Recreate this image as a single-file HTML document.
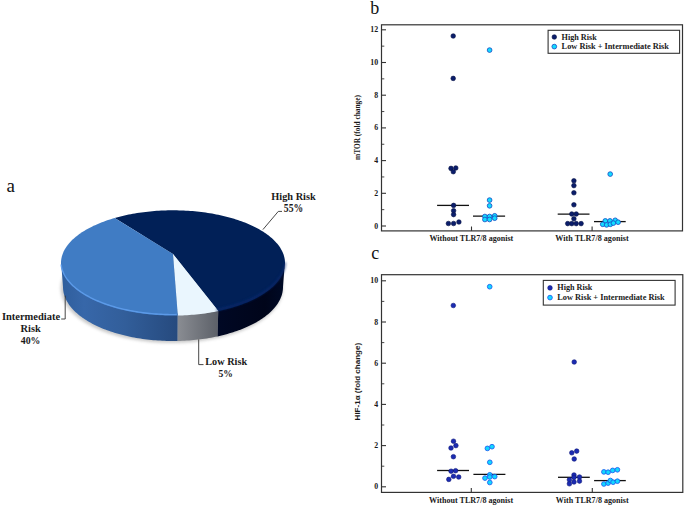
<!DOCTYPE html>
<html><head><meta charset="utf-8"><style>
html,body{margin:0;padding:0;background:#fff;}
svg{display:block;}
</style></head><body>
<svg width="685" height="506" viewBox="0 0 685 506">
<defs> 
<linearGradient id="sideInt" x1="61" y1="0" x2="177.4" y2="0" gradientUnits="userSpaceOnUse">
  <stop offset="0" stop-color="#2f5e9c"/><stop offset="0.2" stop-color="#3767a9"/><stop offset="0.55" stop-color="#325e9a"/><stop offset="1" stop-color="#264a7e"/>
</linearGradient>
<linearGradient id="sideLow" x1="177.4" y1="0" x2="218.3" y2="0" gradientUnits="userSpaceOnUse">
  <stop offset="0" stop-color="#8a8d93"/><stop offset="1" stop-color="#5c6068"/>
</linearGradient>
<linearGradient id="sideHigh" x1="218.3" y1="0" x2="285" y2="0" gradientUnits="userSpaceOnUse">
  <stop offset="0" stop-color="#000824"/><stop offset="0.7" stop-color="#00051a"/><stop offset="1" stop-color="#000a26"/>
</linearGradient>
<filter id="blur05" x="-10%" y="-50%" width="120%" height="200%"><feGaussianBlur stdDeviation="0.8"/></filter>
<filter id="blur1" x="-20%" y="-20%" width="140%" height="140%"><feGaussianBlur stdDeviation="1.6"/></filter>
</defs>
<rect width="685" height="506" fill="#fff"/>
<ellipse cx="171.8" cy="288.2" rx="111.2" ry="54.8" fill="#8a8a8a" opacity="0.45" filter="url(#blur1)"/>
<polygon points="61.00,261.00 61.02,262.06 61.09,263.12 61.20,264.18 61.36,265.24 61.57,266.30 61.82,267.35 62.11,268.40 62.46,269.45 62.84,270.50 63.27,271.54 63.75,272.58 64.26,273.61 64.83,274.64 65.44,275.66 66.09,276.67 66.78,277.68 67.52,278.69 68.30,279.68 69.12,280.67 69.99,281.65 70.90,282.62 71.85,283.58 72.84,284.54 73.87,285.48 74.94,286.41 76.05,287.34 77.20,288.25 78.39,289.15 79.62,290.04 80.89,290.92 82.19,291.79 83.53,292.64 84.91,293.48 86.32,294.31 87.77,295.13 89.25,295.93 90.77,296.71 92.32,297.48 93.90,298.24 95.52,298.98 97.17,299.71 98.84,300.42 100.55,301.11 102.29,301.79 104.06,302.45 105.85,303.10 107.67,303.73 109.52,304.34 111.39,304.93 113.29,305.50 115.22,306.06 117.16,306.60 119.13,307.12 121.12,307.62 123.14,308.10 125.17,308.56 127.22,309.01 129.29,309.43 131.38,309.83 133.49,310.22 135.61,310.58 137.75,310.93 139.90,311.25 142.06,311.55 144.24,311.84 146.43,312.10 148.63,312.34 150.84,312.56 153.06,312.76 155.28,312.94 157.52,313.10 159.76,313.23 162.01,313.35 164.26,313.44 166.51,313.51 168.77,313.56 171.02,313.59 173.28,313.60 175.54,313.59 177.80,313.55 177.71,340.95 175.50,340.99 173.28,341.00 171.06,340.99 168.84,340.96 166.63,340.91 164.41,340.84 162.20,340.74 160.00,340.62 157.80,340.48 155.60,340.32 153.41,340.14 151.23,339.93 149.06,339.71 146.90,339.46 144.75,339.19 142.62,338.90 140.49,338.59 138.38,338.26 136.28,337.90 134.19,337.53 132.13,337.13 130.07,336.72 128.04,336.28 126.02,335.83 124.03,335.35 122.05,334.86 120.10,334.34 118.16,333.81 116.25,333.26 114.36,332.69 112.49,332.10 110.65,331.49 108.84,330.86 107.05,330.22 105.29,329.56 103.55,328.88 101.85,328.18 100.17,327.47 98.52,326.74 96.90,325.99 95.32,325.23 93.76,324.46 92.24,323.66 90.75,322.86 89.29,322.03 87.87,321.20 86.48,320.35 85.13,319.48 83.81,318.61 82.53,317.72 81.29,316.82 80.08,315.90 78.91,314.98 77.78,314.04 76.69,313.09 75.64,312.13 74.63,311.16 73.65,310.18 72.72,309.20 71.83,308.20 70.98,307.19 70.17,306.18 69.40,305.16 68.68,304.13 68.00,303.09 67.36,302.05 66.76,301.00 66.21,299.94 65.70,298.88 65.23,297.82 64.81,296.75 64.43,295.68 64.09,294.60 63.80,293.52 63.56,292.44 63.36,291.35 63.20,290.27 63.09,289.18 63.02,288.09 63.00,287.00" fill="url(#sideInt)"/>
<polygon points="177.80,313.55 180.12,313.49 182.44,313.41 184.75,313.31 187.06,313.18 189.36,313.04 191.66,312.86 193.95,312.67 196.22,312.46 198.49,312.22 200.75,311.96 203.00,311.68 205.23,311.38 207.45,311.05 209.65,310.70 211.84,310.34 214.01,309.95 216.16,309.54 218.30,309.11 217.49,336.39 215.39,336.83 213.28,337.25 211.15,337.65 209.00,338.03 206.83,338.38 204.65,338.72 202.46,339.03 200.26,339.32 198.04,339.58 195.81,339.83 193.57,340.05 191.33,340.25 189.07,340.42 186.81,340.57 184.54,340.70 182.27,340.81 179.99,340.89 177.71,340.95" fill="url(#sideLow)"/>
<polygon points="218.30,309.11 220.37,308.66 222.41,308.20 224.44,307.72 226.44,307.23 228.42,306.71 230.38,306.17 232.32,305.62 234.23,305.04 236.12,304.45 237.98,303.84 239.81,303.22 241.62,302.57 243.40,301.91 245.15,301.23 246.87,300.54 248.56,299.83 250.22,299.10 251.84,298.36 253.44,297.60 255.00,296.83 256.53,296.04 258.02,295.24 259.48,294.42 260.90,293.60 262.29,292.75 263.64,291.90 264.96,291.03 266.23,290.15 267.47,289.26 268.67,288.35 269.83,287.44 270.95,286.51 272.03,285.57 273.07,284.63 274.07,283.67 275.02,282.70 275.94,281.73 276.81,280.74 277.64,279.75 278.43,278.75 279.17,277.75 279.87,276.73 280.53,275.72 281.14,274.69 281.71,273.66 282.23,272.62 282.71,271.58 283.14,270.53 283.53,269.49 283.88,268.43 284.17,267.38 284.43,266.32 284.63,265.26 284.79,264.19 284.91,263.13 284.98,262.07 285.00,261.00 283.00,287.00 282.98,288.09 282.91,289.19 282.80,290.28 282.64,291.37 282.44,292.46 282.19,293.55 281.90,294.63 281.56,295.71 281.18,296.79 280.75,297.86 280.28,298.93 279.77,299.99 279.21,301.05 278.61,302.11 277.96,303.15 277.28,304.19 276.54,305.23 275.77,306.25 274.96,307.27 274.10,308.28 273.20,309.28 272.26,310.27 271.28,311.25 270.26,312.23 269.20,313.19 268.10,314.14 266.96,315.08 265.78,316.01 264.57,316.92 263.31,317.83 262.02,318.72 260.70,319.60 259.33,320.46 257.94,321.31 256.50,322.15 255.04,322.97 253.53,323.78 252.00,324.58 250.43,325.35 248.84,326.12 247.21,326.86 245.55,327.59 243.86,328.30 242.14,329.00 240.39,329.68 238.62,330.34 236.82,330.98 234.99,331.61 233.14,332.22 231.26,332.80 229.36,333.37 227.43,333.92 225.49,334.46 223.52,334.97 221.53,335.46 219.52,335.93 217.49,336.39" fill="url(#sideHigh)"/>
<polygon points="173.00,254.00 114.70,218.00 116.63,217.46 118.59,216.94 120.56,216.43 122.56,215.95 124.58,215.48 126.61,215.03 128.67,214.60 130.74,214.19 132.84,213.81 134.94,213.44 137.07,213.09 139.20,212.76 141.35,212.45 143.52,212.16 145.69,211.89 147.88,211.64 150.07,211.42 152.28,211.21 154.49,211.02 156.71,210.86 158.94,210.72 161.18,210.59 163.41,210.49 165.66,210.41 167.90,210.35 170.15,210.32 172.40,210.30 174.65,210.31 176.89,210.33 179.14,210.38 181.38,210.45 183.63,210.54 185.86,210.65 188.09,210.78 190.32,210.93 192.54,211.11 194.75,211.30 196.95,211.52 199.14,211.76 201.32,212.01 203.49,212.29 205.65,212.59 207.79,212.91 209.92,213.25 212.04,213.60 214.14,213.98 216.22,214.38 218.29,214.80 220.33,215.24 222.36,215.69 224.37,216.17 226.36,216.66 228.32,217.18 230.27,217.71 232.19,218.26 234.09,218.83 235.96,219.41 237.81,220.02 239.63,220.64 241.42,221.28 243.19,221.93 244.92,222.60 246.63,223.29 248.31,223.99 249.96,224.71 251.58,225.45 253.17,226.20 254.72,226.96 256.24,227.74 257.73,228.54 259.18,229.34 260.60,230.16 261.99,231.00 263.33,231.84 264.64,232.70 265.92,233.58 267.15,234.46 268.35,235.36 269.51,236.26 270.63,237.18 271.72,238.11 272.76,239.04 273.76,239.99 274.72,240.95 275.64,241.91 276.52,242.89 277.36,243.87 278.15,244.86 278.91,245.86 279.62,246.86 280.28,247.87 280.91,248.89 281.49,249.91 282.03,250.94 282.52,251.97 282.97,253.01 283.37,254.05 283.73,255.09 284.05,256.14 284.32,257.19 284.54,258.24 284.72,259.30 284.86,260.35 284.95,261.41 284.99,262.47 284.99,263.52 284.95,264.58 284.86,265.64 284.72,266.69 284.54,267.74 284.32,268.79 284.05,269.84 283.73,270.89 283.37,271.93 282.97,272.97 282.52,274.00 282.03,275.03 281.49,276.06 280.91,277.08 280.29,278.09 279.62,279.10 278.91,280.11 278.16,281.10 277.37,282.09 276.53,283.07 275.65,284.04 274.73,285.00 273.77,285.96 272.77,286.90 271.72,287.84 270.64,288.77 269.52,289.68 268.36,290.59 267.16,291.48 265.93,292.36 264.65,293.23 263.34,294.09 261.99,294.94 260.61,295.77 259.19,296.59 257.74,297.39 256.25,298.19 254.73,298.96 253.18,299.73 251.59,300.48 249.97,301.21 248.32,301.93 246.65,302.63 244.94,303.32 243.20,303.99 241.43,304.64 239.64,305.28 237.82,305.90 235.97,306.50 234.10,307.08 232.20,307.65 230.28,308.20 228.34,308.73 226.37,309.24 224.38,309.74 222.38,310.21 220.35,310.67 218.30,311.11" fill="#012057"/>
<polygon points="173.00,254.00 218.30,311.11 216.16,311.54 214.01,311.95 211.84,312.34 209.65,312.70 207.45,313.05 205.23,313.38 203.00,313.68 200.75,313.96 198.49,314.22 196.22,314.46 193.95,314.67 191.66,314.86 189.36,315.04 187.06,315.18 184.75,315.31 182.44,315.41 180.12,315.49 177.80,315.55" fill="#eaf6fe"/>
<polygon points="173.00,254.00 177.80,315.55 175.55,315.59 173.29,315.60 171.04,315.59 168.78,315.56 166.53,315.51 164.28,315.44 162.04,315.35 159.80,315.23 157.56,315.10 155.33,314.94 153.11,314.76 150.89,314.57 148.69,314.35 146.49,314.11 144.31,313.84 142.13,313.56 139.97,313.26 137.83,312.94 135.69,312.60 133.57,312.23 131.47,311.85 129.39,311.45 127.32,311.03 125.27,310.58 123.24,310.12 121.23,309.64 119.24,309.14 117.28,308.63 115.33,308.09 113.41,307.54 111.51,306.96 109.64,306.37 107.80,305.77 105.98,305.14 104.18,304.50 102.42,303.84 100.68,303.17 98.98,302.47 97.30,301.77 95.65,301.04 94.04,300.30 92.46,299.55 90.91,298.78 89.39,298.00 87.91,297.20 86.46,296.39 85.04,295.56 83.67,294.73 82.32,293.87 81.02,293.01 79.75,292.14 78.52,291.25 77.33,290.35 76.18,289.44 75.06,288.52 73.99,287.59 72.96,286.65 71.96,285.70 71.01,284.74 70.10,283.77 69.23,282.79 68.40,281.81 67.62,280.81 66.88,279.81 66.18,278.81 65.52,277.79 64.91,276.78 64.34,275.75 63.82,274.72 63.34,273.69 62.90,272.65 62.51,271.60 62.16,270.56 61.86,269.51 61.60,268.46 61.39,267.40 61.23,266.35 61.11,265.29 61.03,264.23 61.00,263.17 61.02,262.11 61.08,261.05 61.18,259.99 61.33,258.93 61.53,257.88 61.77,256.82 62.06,255.77 62.39,254.72 62.77,253.68 63.19,252.63 63.65,251.60 64.16,250.56 64.72,249.53 65.32,248.51 65.96,247.49 66.64,246.48 67.37,245.48 68.14,244.48 68.96,243.49 69.81,242.51 70.71,241.54 71.65,240.57 72.63,239.62 73.65,238.67 74.71,237.74 75.81,236.81 76.95,235.90 78.13,234.99 79.34,234.10 80.60,233.22 81.89,232.35 83.22,231.49 84.59,230.65 85.99,229.82 87.43,229.00 88.90,228.20 90.41,227.41 91.94,226.63 93.52,225.87 95.12,225.13 96.76,224.40 98.42,223.68 100.12,222.98 101.85,222.30 103.60,221.64 105.39,220.99 107.20,220.35 109.03,219.74 110.90,219.14 112.79,218.56 114.70,218.00" fill="#407cc4"/>
<polyline points="216.24,309.92 218.33,309.50 220.39,309.06 222.44,308.60 224.46,308.12 226.47,307.62 228.45,307.10 230.41,306.57 232.34,306.01 234.25,305.44 236.14,304.84 238.00,304.24 239.83,303.61 241.64,302.96 243.42,302.30 245.17,301.62 246.89,300.93 248.58,300.22 250.24,299.49 251.86,298.75 253.46,297.99 255.02,297.22 256.55,296.43 258.04,295.63 259.50,294.81 260.92,293.98 262.31,293.14 263.66,292.29 264.97,291.42 266.25,290.54 267.48,289.64 268.68,288.74 269.84,287.82 270.96,286.90 272.04,285.96 273.08,285.01 274.08,284.06 275.03,283.09 275.95,282.12 276.82,281.13 277.65,280.14 278.44,279.14 279.18,278.14 279.88,277.12 280.54,276.10 281.15,275.08 281.72,274.05 282.24,273.01 282.72,271.97 283.15,270.92 283.54,269.87 283.88,268.82 284.18,267.76 284.43,266.70 284.63,265.64 284.80,264.58 284.91,263.52 284.98,262.45" fill="none" stroke="#0a2c72" stroke-width="2.6" opacity="0.55" filter="url(#blur05)"/>
<polyline points="61.12,264.48 61.25,265.54 61.43,266.60 61.65,267.66 61.92,268.71 62.23,269.77 62.58,270.82 62.99,271.86 63.43,272.91 63.93,273.94 64.46,274.98 65.04,276.00 65.67,277.03 66.34,278.04 67.05,279.05 67.80,280.05 68.60,281.05 69.44,282.04 70.33,283.01 71.25,283.99 72.22,284.95 73.23,285.90 74.28,286.84 75.37,287.77 76.49,288.69 77.66,289.61 78.87,290.50 80.12,291.39 81.40,292.27 82.72,293.13 84.08,293.98 85.48,294.82 86.91,295.64 88.37,296.45 89.87,297.25 91.41,298.03 92.97,298.80 94.57,299.55 96.21,300.29 97.87,301.01 99.56,301.72 101.29,302.40 103.04,303.08 104.82,303.73 106.63,304.37 108.47,304.99 110.34,305.60 112.22,306.18 114.14,306.75 116.08,307.30 118.04,307.83 120.02,308.34 122.03,308.84 124.05,309.31 126.10,309.77 128.17,310.20 130.25,310.62 132.35,311.01 134.47,311.39 136.60,311.74 138.75,312.08 140.91,312.40 143.09,312.69 145.28,312.96 147.47,313.22 149.68,313.45 151.90,313.66 154.13,313.85 156.37,314.02 158.61,314.16 160.86,314.29 163.11,314.39 165.37,314.48 167.63,314.54 169.89,314.58 172.15,314.60 174.42,314.60 176.68,314.57" fill="none" stroke="#62a0ee" stroke-width="1.4" opacity="0.85"/>
<polyline points="262.9,229.6 278.3,211.4 282.0,211.4" fill="none" stroke="#333" stroke-width="0.9"/>
<polyline points="65.2,295.6 65.2,319.0 61.2,319.0" fill="none" stroke="#333" stroke-width="0.9"/>
<polyline points="198.7,339.4 198.7,364.6 203.5,364.6" fill="none" stroke="#333" stroke-width="0.9"/>
<text x="271.3" y="199.6" font-family='"Liberation Serif", serif' font-size="10.5" font-weight="bold" text-anchor="start" fill="#1a1a1a" textLength="44.4" lengthAdjust="spacingAndGlyphs" >High Risk</text>
<text x="283.8" y="211.5" font-family='"Liberation Serif", serif' font-size="11.6" font-weight="bold" text-anchor="start" fill="#1a1a1a" textLength="19.4" lengthAdjust="spacingAndGlyphs" >55%</text>
<text x="1.9" y="319.8" font-family='"Liberation Serif", serif' font-size="10.5" font-weight="bold" text-anchor="start" fill="#1a1a1a" textLength="58.2" lengthAdjust="spacingAndGlyphs" >Intermediate</text>
<text x="20.6" y="331.7" font-family='"Liberation Serif", serif' font-size="10.5" font-weight="bold" text-anchor="start" fill="#1a1a1a" textLength="20.2" lengthAdjust="spacingAndGlyphs" >Risk</text>
<text x="20.8" y="343.6" font-family='"Liberation Serif", serif' font-size="11.3" font-weight="bold" text-anchor="start" fill="#1a1a1a" textLength="19.6" lengthAdjust="spacingAndGlyphs" >40%</text>
<text x="205.3" y="364.6" font-family='"Liberation Serif", serif' font-size="10.5" font-weight="bold" text-anchor="start" fill="#1a1a1a" textLength="41.8" lengthAdjust="spacingAndGlyphs" >Low Risk</text>
<text x="218.5" y="376.8" font-family='"Liberation Serif", serif' font-size="11.3" font-weight="bold" text-anchor="start" fill="#1a1a1a" textLength="14.4" lengthAdjust="spacingAndGlyphs" >5%</text>
<text x="6.6" y="191.9" font-family='"Liberation Serif", serif' font-size="19" font-weight="normal" text-anchor="start" fill="#111" >a</text>
<rect x="381.5" y="24.8" width="301.0" height="206.1" fill="none" stroke="#333" stroke-width="1.2"/>
<line x1="381.5" y1="226.00" x2="386.0" y2="226.00" stroke="#333" stroke-width="1.1"/>
<text x="378.2" y="228.5" font-family='"Liberation Serif", serif' font-size="8.0" font-weight="bold" text-anchor="end" fill="#1a1a1a" textLength="3.9" lengthAdjust="spacingAndGlyphs" >0</text>
<line x1="381.5" y1="209.65" x2="384.3" y2="209.65" stroke="#333" stroke-width="0.9"/>
<line x1="381.5" y1="193.30" x2="386.0" y2="193.30" stroke="#333" stroke-width="1.1"/>
<text x="378.2" y="195.8" font-family='"Liberation Serif", serif' font-size="8.0" font-weight="bold" text-anchor="end" fill="#1a1a1a" textLength="3.9" lengthAdjust="spacingAndGlyphs" >2</text>
<line x1="381.5" y1="176.95" x2="384.3" y2="176.95" stroke="#333" stroke-width="0.9"/>
<line x1="381.5" y1="160.60" x2="386.0" y2="160.60" stroke="#333" stroke-width="1.1"/>
<text x="378.2" y="163.1" font-family='"Liberation Serif", serif' font-size="8.0" font-weight="bold" text-anchor="end" fill="#1a1a1a" textLength="3.9" lengthAdjust="spacingAndGlyphs" >4</text>
<line x1="381.5" y1="144.25" x2="384.3" y2="144.25" stroke="#333" stroke-width="0.9"/>
<line x1="381.5" y1="127.90" x2="386.0" y2="127.90" stroke="#333" stroke-width="1.1"/>
<text x="378.2" y="130.39999999999998" font-family='"Liberation Serif", serif' font-size="8.0" font-weight="bold" text-anchor="end" fill="#1a1a1a" textLength="3.9" lengthAdjust="spacingAndGlyphs" >6</text>
<line x1="381.5" y1="111.55" x2="384.3" y2="111.55" stroke="#333" stroke-width="0.9"/>
<line x1="381.5" y1="95.20" x2="386.0" y2="95.20" stroke="#333" stroke-width="1.1"/>
<text x="378.2" y="97.69999999999999" font-family='"Liberation Serif", serif' font-size="8.0" font-weight="bold" text-anchor="end" fill="#1a1a1a" textLength="3.9" lengthAdjust="spacingAndGlyphs" >8</text>
<line x1="381.5" y1="78.85" x2="384.3" y2="78.85" stroke="#333" stroke-width="0.9"/>
<line x1="381.5" y1="62.50" x2="386.0" y2="62.50" stroke="#333" stroke-width="1.1"/>
<text x="378.2" y="65.0" font-family='"Liberation Serif", serif' font-size="8.0" font-weight="bold" text-anchor="end" fill="#1a1a1a" textLength="7.9" lengthAdjust="spacingAndGlyphs" >10</text>
<line x1="381.5" y1="46.15" x2="384.3" y2="46.15" stroke="#333" stroke-width="0.9"/>
<line x1="381.5" y1="29.80" x2="386.0" y2="29.80" stroke="#333" stroke-width="1.1"/>
<text x="378.2" y="32.29999999999998" font-family='"Liberation Serif", serif' font-size="8.0" font-weight="bold" text-anchor="end" fill="#1a1a1a" textLength="7.9" lengthAdjust="spacingAndGlyphs" >12</text>
<line x1="471.5" y1="226.5" x2="471.5" y2="230.9" stroke="#333" stroke-width="1.1"/>
<line x1="592.1" y1="226.5" x2="592.1" y2="230.9" stroke="#333" stroke-width="1.1"/>
<text x="429.4" y="240.7" font-family='"Liberation Serif", serif' font-size="8.2" font-weight="bold" text-anchor="start" fill="#1a1a1a" textLength="83.9" lengthAdjust="spacingAndGlyphs" >Without TLR7/8 agonist</text>
<text x="555.3" y="240.7" font-family='"Liberation Serif", serif' font-size="8.2" font-weight="bold" text-anchor="start" fill="#1a1a1a" textLength="73.3" lengthAdjust="spacingAndGlyphs" >With TLR7/8 agonist</text>
<g transform="translate(357.9,127.5) rotate(-90)"><text x="-32.5" y="2.5" font-family='"Liberation Serif", serif' font-size="7.2" font-weight="bold" text-anchor="start" fill="#1a1a1a" textLength="65" lengthAdjust="spacingAndGlyphs" >mTOR (fold change)</text></g>
<line x1="437.1" y1="205.4" x2="469.0" y2="205.4" stroke="#111" stroke-width="1.3"/>
<line x1="473.0" y1="216.2" x2="505.1" y2="216.2" stroke="#111" stroke-width="1.3"/>
<line x1="557.7" y1="214.2" x2="589.5" y2="214.2" stroke="#111" stroke-width="1.3"/>
<line x1="594.0" y1="221.6" x2="625.7" y2="221.6" stroke="#111" stroke-width="1.3"/>
<circle cx="453.2" cy="36.0" r="2.3" fill="#0b1d6b" stroke="#061245" stroke-width="0.6"/>
<circle cx="453.2" cy="78.4" r="2.3" fill="#0b1d6b" stroke="#061245" stroke-width="0.6"/>
<circle cx="451.0" cy="168.4" r="2.3" fill="#0b1d6b" stroke="#061245" stroke-width="0.6"/>
<circle cx="455.8" cy="168.0" r="2.3" fill="#0b1d6b" stroke="#061245" stroke-width="0.6"/>
<circle cx="453.3" cy="171.7" r="2.3" fill="#0b1d6b" stroke="#061245" stroke-width="0.6"/>
<circle cx="453.6" cy="205.4" r="2.3" fill="#0b1d6b" stroke="#061245" stroke-width="0.6"/>
<circle cx="453.6" cy="210.7" r="2.3" fill="#0b1d6b" stroke="#061245" stroke-width="0.6"/>
<circle cx="453.6" cy="214.6" r="2.3" fill="#0b1d6b" stroke="#061245" stroke-width="0.6"/>
<circle cx="448.4" cy="223.5" r="2.3" fill="#0b1d6b" stroke="#061245" stroke-width="0.6"/>
<circle cx="453.6" cy="223.5" r="2.3" fill="#0b1d6b" stroke="#061245" stroke-width="0.6"/>
<circle cx="458.9" cy="222.0" r="2.3" fill="#0b1d6b" stroke="#061245" stroke-width="0.6"/>
<circle cx="573.9" cy="180.8" r="2.3" fill="#0b1d6b" stroke="#061245" stroke-width="0.6"/>
<circle cx="573.9" cy="185.6" r="2.3" fill="#0b1d6b" stroke="#061245" stroke-width="0.6"/>
<circle cx="573.9" cy="192.8" r="2.3" fill="#0b1d6b" stroke="#061245" stroke-width="0.6"/>
<circle cx="573.9" cy="204.8" r="2.3" fill="#0b1d6b" stroke="#061245" stroke-width="0.6"/>
<circle cx="571.8" cy="214" r="2.3" fill="#0b1d6b" stroke="#061245" stroke-width="0.6"/>
<circle cx="576.2" cy="214" r="2.3" fill="#0b1d6b" stroke="#061245" stroke-width="0.6"/>
<circle cx="573.9" cy="218.8" r="2.3" fill="#0b1d6b" stroke="#061245" stroke-width="0.6"/>
<circle cx="567.7" cy="223.6" r="2.3" fill="#0b1d6b" stroke="#061245" stroke-width="0.6"/>
<circle cx="571.8" cy="223.6" r="2.3" fill="#0b1d6b" stroke="#061245" stroke-width="0.6"/>
<circle cx="576.2" cy="223.6" r="2.3" fill="#0b1d6b" stroke="#061245" stroke-width="0.6"/>
<circle cx="581.1" cy="223.6" r="2.3" fill="#0b1d6b" stroke="#061245" stroke-width="0.6"/>
<circle cx="489.6" cy="50.1" r="2.35" fill="#12dcff" stroke="#1850c8" stroke-width="0.85"/>
<circle cx="489.6" cy="200.1" r="2.35" fill="#12dcff" stroke="#1850c8" stroke-width="0.85"/>
<circle cx="489.6" cy="205.8" r="2.35" fill="#12dcff" stroke="#1850c8" stroke-width="0.85"/>
<circle cx="484.9" cy="216.5" r="2.35" fill="#12dcff" stroke="#1850c8" stroke-width="0.85"/>
<circle cx="484.9" cy="219.5" r="2.35" fill="#12dcff" stroke="#1850c8" stroke-width="0.85"/>
<circle cx="489.6" cy="216.5" r="2.35" fill="#12dcff" stroke="#1850c8" stroke-width="0.85"/>
<circle cx="489.6" cy="219.5" r="2.35" fill="#12dcff" stroke="#1850c8" stroke-width="0.85"/>
<circle cx="494.7" cy="215.8" r="2.35" fill="#12dcff" stroke="#1850c8" stroke-width="0.85"/>
<circle cx="494.7" cy="218.2" r="2.35" fill="#12dcff" stroke="#1850c8" stroke-width="0.85"/>
<circle cx="610.2" cy="174.1" r="2.35" fill="#12dcff" stroke="#1850c8" stroke-width="0.85"/>
<circle cx="605.3" cy="220.9" r="2.35" fill="#12dcff" stroke="#1850c8" stroke-width="0.85"/>
<circle cx="610.0" cy="220.9" r="2.35" fill="#12dcff" stroke="#1850c8" stroke-width="0.85"/>
<circle cx="615.2" cy="220.3" r="2.35" fill="#12dcff" stroke="#1850c8" stroke-width="0.85"/>
<circle cx="602.7" cy="224.3" r="2.35" fill="#12dcff" stroke="#1850c8" stroke-width="0.85"/>
<circle cx="606.6" cy="224.9" r="2.35" fill="#12dcff" stroke="#1850c8" stroke-width="0.85"/>
<circle cx="610.4" cy="224.3" r="2.35" fill="#12dcff" stroke="#1850c8" stroke-width="0.85"/>
<circle cx="613.4" cy="223.1" r="2.35" fill="#12dcff" stroke="#1850c8" stroke-width="0.85"/>
<circle cx="618.1" cy="222.2" r="2.35" fill="#12dcff" stroke="#1850c8" stroke-width="0.85"/>
<rect x="548.1" y="30.3" width="131.5" height="22.999999999999996" fill="#fff" stroke="#333" stroke-width="1.1"/>
<circle cx="554.3" cy="37.0" r="2.3" fill="#0b1d6b" stroke="#061245" stroke-width="0.6"/>
<circle cx="554.3" cy="46.6" r="2.35" fill="#12dcff" stroke="#1850c8" stroke-width="0.85"/>
<text x="561.6" y="39.6" font-family='"Liberation Serif", serif' font-size="8.0" font-weight="bold" text-anchor="start" fill="#1a1a1a" textLength="35.1" lengthAdjust="spacingAndGlyphs" >High Risk</text>
<text x="561.6" y="49.2" font-family='"Liberation Serif", serif' font-size="8.0" font-weight="bold" text-anchor="start" fill="#1a1a1a" textLength="107.4" lengthAdjust="spacingAndGlyphs" >Low Risk + Intermediate Risk</text>
<text x="370.3" y="14.0" font-family='"Liberation Serif", serif' font-size="18" font-weight="normal" text-anchor="start" fill="#111" >b</text>
<rect x="381.5" y="274.7" width="301.29999999999995" height="217.7" fill="none" stroke="#333" stroke-width="1.2"/>
<line x1="381.5" y1="486.80" x2="386.0" y2="486.80" stroke="#333" stroke-width="1.1"/>
<text x="378.2" y="489.3" font-family='"Liberation Serif", serif' font-size="8.0" font-weight="bold" text-anchor="end" fill="#1a1a1a" textLength="3.9" lengthAdjust="spacingAndGlyphs" >0</text>
<line x1="381.5" y1="466.20" x2="384.3" y2="466.20" stroke="#333" stroke-width="0.9"/>
<line x1="381.5" y1="445.60" x2="386.0" y2="445.60" stroke="#333" stroke-width="1.1"/>
<text x="378.2" y="448.1" font-family='"Liberation Serif", serif' font-size="8.0" font-weight="bold" text-anchor="end" fill="#1a1a1a" textLength="3.9" lengthAdjust="spacingAndGlyphs" >2</text>
<line x1="381.5" y1="425.00" x2="384.3" y2="425.00" stroke="#333" stroke-width="0.9"/>
<line x1="381.5" y1="404.40" x2="386.0" y2="404.40" stroke="#333" stroke-width="1.1"/>
<text x="378.2" y="406.9" font-family='"Liberation Serif", serif' font-size="8.0" font-weight="bold" text-anchor="end" fill="#1a1a1a" textLength="3.9" lengthAdjust="spacingAndGlyphs" >4</text>
<line x1="381.5" y1="383.80" x2="384.3" y2="383.80" stroke="#333" stroke-width="0.9"/>
<line x1="381.5" y1="363.20" x2="386.0" y2="363.20" stroke="#333" stroke-width="1.1"/>
<text x="378.2" y="365.7" font-family='"Liberation Serif", serif' font-size="8.0" font-weight="bold" text-anchor="end" fill="#1a1a1a" textLength="3.9" lengthAdjust="spacingAndGlyphs" >6</text>
<line x1="381.5" y1="342.60" x2="384.3" y2="342.60" stroke="#333" stroke-width="0.9"/>
<line x1="381.5" y1="322.00" x2="386.0" y2="322.00" stroke="#333" stroke-width="1.1"/>
<text x="378.2" y="324.5" font-family='"Liberation Serif", serif' font-size="8.0" font-weight="bold" text-anchor="end" fill="#1a1a1a" textLength="3.9" lengthAdjust="spacingAndGlyphs" >8</text>
<line x1="381.5" y1="301.40" x2="384.3" y2="301.40" stroke="#333" stroke-width="0.9"/>
<line x1="381.5" y1="280.80" x2="386.0" y2="280.80" stroke="#333" stroke-width="1.1"/>
<text x="378.2" y="283.3" font-family='"Liberation Serif", serif' font-size="8.0" font-weight="bold" text-anchor="end" fill="#1a1a1a" textLength="7.9" lengthAdjust="spacingAndGlyphs" >10</text>
<line x1="471.3" y1="488.0" x2="471.3" y2="492.4" stroke="#333" stroke-width="1.1"/>
<line x1="592.3" y1="488.0" x2="592.3" y2="492.4" stroke="#333" stroke-width="1.1"/>
<text x="429.0" y="502.6" font-family='"Liberation Serif", serif' font-size="8.2" font-weight="bold" text-anchor="start" fill="#1a1a1a" textLength="84.2" lengthAdjust="spacingAndGlyphs" >Without TLR7/8 agonist</text>
<text x="555.8" y="502.6" font-family='"Liberation Serif", serif' font-size="8.2" font-weight="bold" text-anchor="start" fill="#1a1a1a" textLength="72.8" lengthAdjust="spacingAndGlyphs" >With TLR7/8 agonist</text>
<g transform="translate(357.2,381.65) rotate(-90)"><text x="-38.75" y="2.5" font-family='"Liberation Sans", sans-serif' font-size="7.3" font-weight="bold" text-anchor="start" fill="#1a1a1a" textLength="77.5" lengthAdjust="spacingAndGlyphs" >HIF-1α (fold change)</text></g>
<line x1="437.1" y1="470.5" x2="469.0" y2="470.5" stroke="#111" stroke-width="1.3"/>
<line x1="473.4" y1="474.4" x2="505.4" y2="474.4" stroke="#111" stroke-width="1.3"/>
<line x1="558.0" y1="477.3" x2="589.8" y2="477.3" stroke="#111" stroke-width="1.3"/>
<line x1="594.1" y1="480.6" x2="625.8" y2="480.6" stroke="#111" stroke-width="1.3"/>
<circle cx="453.3" cy="305.5" r="2.3" fill="#1b2bb2" stroke="#0e177a" stroke-width="0.6"/>
<circle cx="453.5" cy="441.2" r="2.3" fill="#1b2bb2" stroke="#0e177a" stroke-width="0.6"/>
<circle cx="455.9" cy="445.6" r="2.3" fill="#1b2bb2" stroke="#0e177a" stroke-width="0.6"/>
<circle cx="451.0" cy="448.0" r="2.3" fill="#1b2bb2" stroke="#0e177a" stroke-width="0.6"/>
<circle cx="453.4" cy="456.7" r="2.3" fill="#1b2bb2" stroke="#0e177a" stroke-width="0.6"/>
<circle cx="451.1" cy="471.2" r="2.3" fill="#1b2bb2" stroke="#0e177a" stroke-width="0.6"/>
<circle cx="455.6" cy="470.7" r="2.3" fill="#1b2bb2" stroke="#0e177a" stroke-width="0.6"/>
<circle cx="453.5" cy="476.3" r="2.3" fill="#1b2bb2" stroke="#0e177a" stroke-width="0.6"/>
<circle cx="458.7" cy="477.0" r="2.3" fill="#1b2bb2" stroke="#0e177a" stroke-width="0.6"/>
<circle cx="448.8" cy="479.4" r="2.3" fill="#1b2bb2" stroke="#0e177a" stroke-width="0.6"/>
<circle cx="574.2" cy="362.0" r="2.3" fill="#1b2bb2" stroke="#0e177a" stroke-width="0.6"/>
<circle cx="571.8" cy="452.8" r="2.3" fill="#1b2bb2" stroke="#0e177a" stroke-width="0.6"/>
<circle cx="576.7" cy="451.1" r="2.3" fill="#1b2bb2" stroke="#0e177a" stroke-width="0.6"/>
<circle cx="574.2" cy="459.0" r="2.3" fill="#1b2bb2" stroke="#0e177a" stroke-width="0.6"/>
<circle cx="574.0" cy="475.0" r="2.3" fill="#1b2bb2" stroke="#0e177a" stroke-width="0.6"/>
<circle cx="574.0" cy="477.4" r="2.3" fill="#1b2bb2" stroke="#0e177a" stroke-width="0.6"/>
<circle cx="574.0" cy="482.0" r="2.3" fill="#1b2bb2" stroke="#0e177a" stroke-width="0.6"/>
<circle cx="579.5" cy="477.0" r="2.3" fill="#1b2bb2" stroke="#0e177a" stroke-width="0.6"/>
<circle cx="579.5" cy="481.1" r="2.3" fill="#1b2bb2" stroke="#0e177a" stroke-width="0.6"/>
<circle cx="569.4" cy="479.8" r="2.3" fill="#1b2bb2" stroke="#0e177a" stroke-width="0.6"/>
<circle cx="569.4" cy="483.8" r="2.3" fill="#1b2bb2" stroke="#0e177a" stroke-width="0.6"/>
<circle cx="489.7" cy="286.7" r="2.35" fill="#12d8ff" stroke="#1a5cf0" stroke-width="0.85"/>
<circle cx="487.4" cy="448.4" r="2.35" fill="#12d8ff" stroke="#1a5cf0" stroke-width="0.85"/>
<circle cx="492.0" cy="446.7" r="2.35" fill="#12d8ff" stroke="#1a5cf0" stroke-width="0.85"/>
<circle cx="489.8" cy="462.3" r="2.35" fill="#12d8ff" stroke="#1a5cf0" stroke-width="0.85"/>
<circle cx="489.8" cy="474.8" r="2.35" fill="#12d8ff" stroke="#1a5cf0" stroke-width="0.85"/>
<circle cx="489.8" cy="477.0" r="2.35" fill="#12d8ff" stroke="#1a5cf0" stroke-width="0.85"/>
<circle cx="485.0" cy="478.1" r="2.35" fill="#12d8ff" stroke="#1a5cf0" stroke-width="0.85"/>
<circle cx="494.7" cy="476.6" r="2.35" fill="#12d8ff" stroke="#1a5cf0" stroke-width="0.85"/>
<circle cx="489.8" cy="482.5" r="2.35" fill="#12d8ff" stroke="#1a5cf0" stroke-width="0.85"/>
<circle cx="603.9" cy="471.9" r="2.35" fill="#12d8ff" stroke="#1a5cf0" stroke-width="0.85"/>
<circle cx="608.1" cy="472.2" r="2.35" fill="#12d8ff" stroke="#1a5cf0" stroke-width="0.85"/>
<circle cx="612.7" cy="470.4" r="2.35" fill="#12d8ff" stroke="#1a5cf0" stroke-width="0.85"/>
<circle cx="617.4" cy="469.8" r="2.35" fill="#12d8ff" stroke="#1a5cf0" stroke-width="0.85"/>
<circle cx="603.9" cy="484.0" r="2.35" fill="#12d8ff" stroke="#1a5cf0" stroke-width="0.85"/>
<circle cx="608.1" cy="483.1" r="2.35" fill="#12d8ff" stroke="#1a5cf0" stroke-width="0.85"/>
<circle cx="610.4" cy="480.5" r="2.35" fill="#12d8ff" stroke="#1a5cf0" stroke-width="0.85"/>
<circle cx="613.1" cy="482.2" r="2.35" fill="#12d8ff" stroke="#1a5cf0" stroke-width="0.85"/>
<circle cx="617.4" cy="481.2" r="2.35" fill="#12d8ff" stroke="#1a5cf0" stroke-width="0.85"/>
<rect x="543.3" y="280.4" width="131.80000000000007" height="24.700000000000045" fill="#fff" stroke="#333" stroke-width="1.1"/>
<circle cx="550.0" cy="287.9" r="2.3" fill="#1b2bb2" stroke="#0e177a" stroke-width="0.6"/>
<circle cx="550.0" cy="297.6" r="2.35" fill="#12d8ff" stroke="#1a5cf0" stroke-width="0.85"/>
<text x="557.3" y="290.3" font-family='"Liberation Serif", serif' font-size="8.0" font-weight="bold" text-anchor="start" fill="#1a1a1a" textLength="35.1" lengthAdjust="spacingAndGlyphs" >High Risk</text>
<text x="557.3" y="300.0" font-family='"Liberation Serif", serif' font-size="8.0" font-weight="bold" text-anchor="start" fill="#1a1a1a" textLength="107.3" lengthAdjust="spacingAndGlyphs" >Low Risk + Intermediate Risk</text>
<text x="371.2" y="259.2" font-family='"Liberation Serif", serif' font-size="18" font-weight="normal" text-anchor="start" fill="#111" >c</text>
</svg>
</body></html>
